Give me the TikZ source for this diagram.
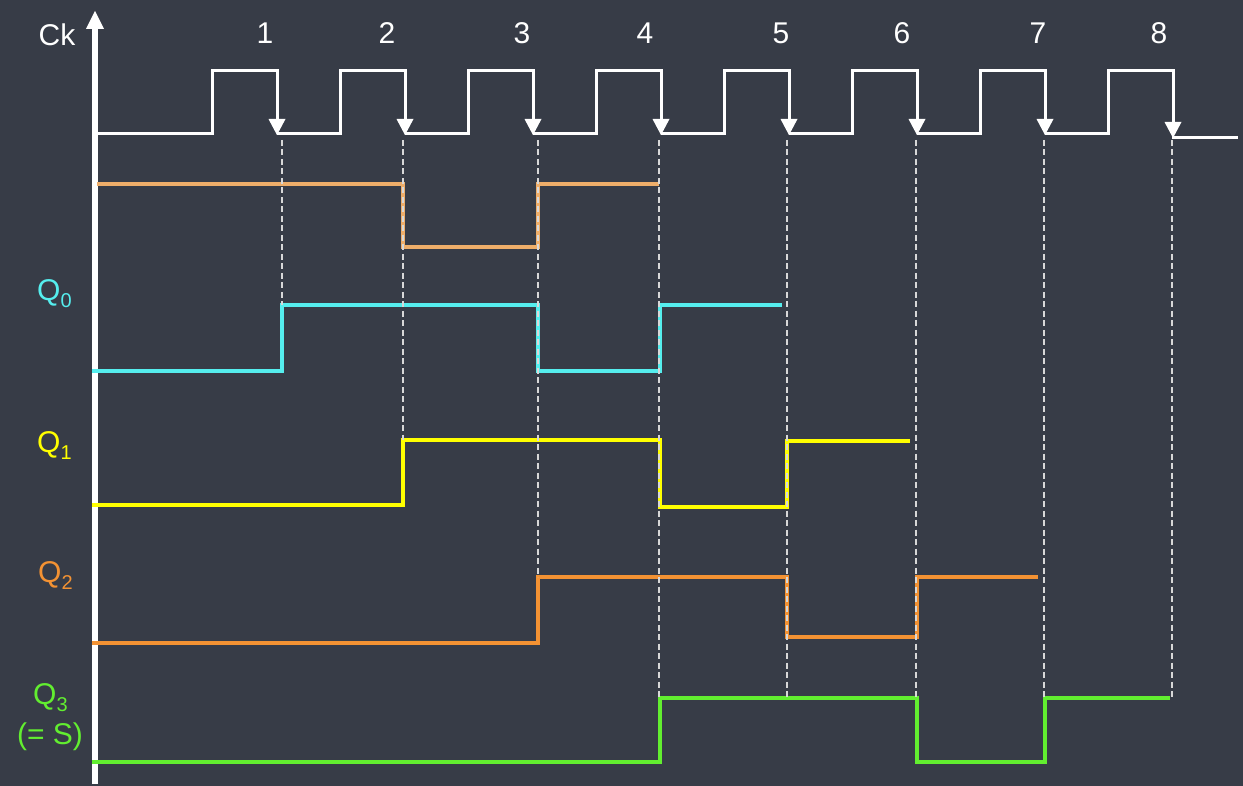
\documentclass[tikz,border=0pt]{standalone}
\usepackage{fontspec}
\setmainfont{Liberation Sans}
\definecolor{bg}{HTML}{373C47}
\definecolor{tan}{HTML}{EEAE6A}
\definecolor{qcyan}{HTML}{55EEEE}
\definecolor{qyellow}{HTML}{FFFF00}
\definecolor{qorange}{HTML}{F39233}
\definecolor{qgreen}{HTML}{62EE30}
\definecolor{dashc}{HTML}{D8D8D8}
\begin{document}
\begin{tikzpicture}[x=1pt,y=-1pt,
  lbl/.style={font=\fontsize{30}{36}\selectfont, inner sep=0pt},
  wave/.style={line width=3.2pt, line join=miter},
  guide/.style={dashc, line width=1.6pt, dash pattern=on 6pt off 3.5pt},
  clk/.style={white, line width=3pt}]
\useasboundingbox (0,0) rectangle (1243,786);
\fill[bg] (0,0) rectangle (1243,786);
% axis
\draw[white, line width=6pt] (95,784) -- (95,26);
\fill[white] (95,11) -- (104,29) -- (86,29) -- cycle;
% tan waveform
\draw[wave, tan] (97,184) -- (403,184) -- (403,247) -- (538,247) -- (538,184) -- (659,184);
% Q0
\draw[wave, qcyan] (92,371) -- (282,371) -- (282,305) -- (538,305) -- (538,371) -- (660,371) -- (660,305) -- (782,305);
% Q1
\draw[wave, qyellow] (92,505) -- (403,505) -- (403,440) -- (660,440) -- (660,507) -- (787,507) -- (787,441) -- (910,441);
% Q2
\draw[wave, qorange] (92,643) -- (538,643) -- (538,577) -- (787,577) -- (787,637) -- (917,637) -- (917,577) -- (1038,577);
% Q3
\draw[wave, qgreen] (92,762) -- (660,762) -- (660,698) -- (917,698) -- (917,762) -- (1045,762) -- (1045,698) -- (1170,698);
% guides
\draw[guide] (282,140) -- (282,305);
\draw[guide] (403,140) -- (403,440);
\draw[guide] (538,140) -- (538,577);
\draw[guide] (659,140) -- (659,698);
\foreach \gx in {787,916,1044,1172} \draw[guide] (\gx,140) -- (\gx,698);
% clock
\draw[clk] (97,134) -- (212,134) -- (212,71) -- (277,71) -- (277,122);
\foreach \r/\f in {340/405,468/533,596/661,724/789,852/917,980/1045}
  \draw[clk] (\f-128,134) -- (\r,134) -- (\r,71) -- (\f,71) -- (\f,122);
\draw[clk] (1045,134) -- (1108,134) -- (1108,71) -- (1173,71) -- (1173,125);
\draw[clk] (1172,138) -- (1238,138);
\foreach \f in {277,405,533,661,789,917,1045}
  \fill[white] (\f,135) -- (\f+8.5,119) -- (\f-8.5,119) -- cycle;
\fill[white] (1173,138) -- (1181.5,122) -- (1164.5,122) -- cycle;
% labels
\node[lbl, white, anchor=base] (ck) at (57,46) {Ck};
\foreach \n/\nx in {1/265,2/387,3/522,4/645,5/781,6/902,7/1038,8/1159}
  \node[lbl, white, anchor=base] (num\n) at (\nx,44) {\n};
\node[lbl, qcyan, anchor=base west] (q0) at (37,301) {Q\raisebox{-7pt}{\fontsize{20}{20}\selectfont 0}};
\node[lbl, qyellow, anchor=base west] (q1) at (37,452) {Q\raisebox{-7pt}{\fontsize{20}{20}\selectfont 1}};
\node[lbl, qorange, anchor=base west] (q2) at (38,582) {Q\raisebox{-7pt}{\fontsize{20}{20}\selectfont 2}};
\node[lbl, qgreen, anchor=base west] (q3) at (33,704) {Q\raisebox{-7pt}{\fontsize{20}{20}\selectfont 3}};
\node[lbl, qgreen, anchor=base] (qs) at (50,744) {(= S)};
\end{tikzpicture}
\end{document}
